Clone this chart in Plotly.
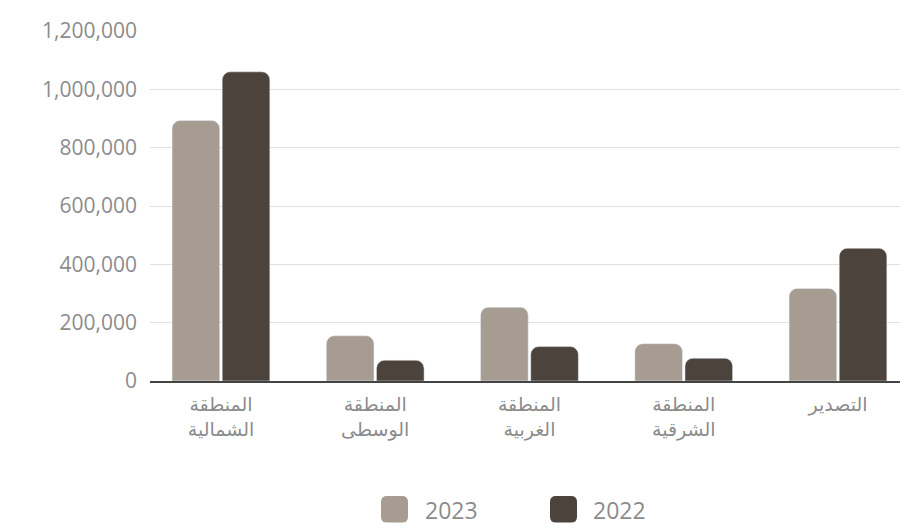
import plotly.graph_objects as go

categories = ["المنطقة<br>الشمالية", "المنطقة<br>الوسطى", "المنطقة<br>الغربية", "المنطقة<br>الشرقية", "التصدير"]
values_2023 = [893000, 155000, 253000, 128000, 317000]
values_2022 = [1060000, 71000, 118000, 78000, 455000]
y_ticks = [0, 200000, 400000, 600000, 800000, 1000000, 1200000]
legend_labels = ["2023", "2022"]

c2023 = "#a69c92"
c2022 = "#4b433c"
text_gray = "#8c8c8c"

W, H = 908, 529
OFF = 8  # page body offset
L, R, T, B = 142, 8, 17, 156
plot_left, plot_top = L + OFF, T + OFF
plot_w, plot_h = W - L - R, H - T - B


def px_to_paper(x, y):
    return (x - plot_left) / plot_w, (plot_top + plot_h - y) / plot_h


def rounded_rect(x0, y0, x1, y1, r):
    def P(x, y):
        px, py = px_to_paper(x, y)
        return f"{px:.5f},{py:.5f}"
    return (f"M {P(x0 + r, y0)} L {P(x1 - r, y0)} Q {P(x1, y0)} {P(x1, y0 + r)} "
            f"L {P(x1, y1 - r)} Q {P(x1, y1)} {P(x1 - r, y1)} "
            f"L {P(x0 + r, y1)} Q {P(x0, y1)} {P(x0, y1 - r)} "
            f"L {P(x0, y0 + r)} Q {P(x0, y0)} {P(x0 + r, y0)} Z")


fig = go.Figure()
fig.add_trace(go.Bar(x=categories, y=values_2023, name=legend_labels[0], marker_color=c2023))
fig.add_trace(go.Bar(x=categories, y=values_2022, name=legend_labels[1], marker_color=c2022))

# manual legend (large rounded squares)
legend_items = [(legend_labels[0], c2023, 381, 423), (legend_labels[1], c2022, 550, 591)]
shapes, annotations = [], []
for label, col, sx, tx in legend_items:
    shapes.append(dict(type="path", xref="paper", yref="paper",
                       path=rounded_rect(sx, 498, sx + 27, 525, 6),
                       fillcolor=col, line=dict(width=0)))
    ax, ay = px_to_paper(tx, 512)
    annotations.append(dict(x=ax, y=ay, xref="paper", yref="paper", text=label,
                            showarrow=False, xanchor="left", yanchor="middle",
                            font=dict(size=23, color=text_gray)))

fig.update_layout(
    width=W, height=H,
    margin=dict(l=L, r=R, t=T, b=B),
    paper_bgcolor="white", plot_bgcolor="white",
    barmode="group", bargap=0.35, bargroupgap=0.05, barcornerradius=8,
    font=dict(family="Open Sans, DejaVu Sans, sans-serif", color=text_gray),
    showlegend=False,
    shapes=shapes, annotations=annotations,
)
fig.update_xaxes(
    type="category", range=[-0.46, 4.454],
    showline=True, linecolor="#444444", linewidth=2,
    showgrid=False, ticks="", tickfont=dict(size=19, color=text_gray,
    family="DejaVu Sans, Noto Sans, sans-serif"), ticklabelstandoff=5, fixedrange=True,
)
fig.update_yaxes(
    range=[0, 1200000], tickvals=y_ticks, tickformat=",d",
    showgrid=True, gridcolor="#e0e0e0", gridwidth=1, zeroline=False,
    tickfont=dict(size=21, color=text_gray), ticklabelstandoff=12,
)

fig.write_html("out.html")
